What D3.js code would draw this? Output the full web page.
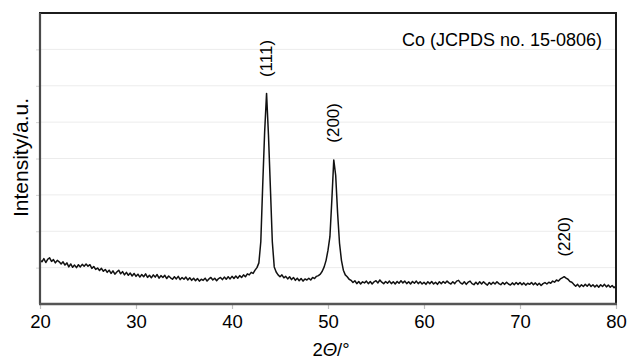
<!DOCTYPE html>
<html>
<head>
<meta charset="utf-8">
<script src="https://cdn.jsdelivr.net/npm/d3@7"></script>
<style>
  html, body { margin: 0; padding: 0; background: white; }
</style>
</head>
<body>
<div id="idMyCanvas"></div>
<script>
let container_id = "idMyCanvas";

let canvas_xn = 627;
let canvas_yn = 360;

// XRD scan, 20..80 deg in 0.2 deg steps, intensity in grid units
let scan_start = 20;
let scan_step = 0.2;
let intensity = [
  1.21, 1.16, 1.25, 1.14, 1.23,   1.27, 1.17, 1.22, 1.13, 1.20,
  1.16, 1.10, 1.16, 1.07, 1.13,   1.02, 1.10, 1.01, 1.07, 1.00,
  1.08, 1.02, 1.09, 1.04, 1.10,   1.04, 1.08, 0.98, 1.03, 0.95,
  0.99, 0.92, 0.98, 0.90, 0.95,   0.87, 0.93, 0.84, 0.91, 0.82,
  0.88, 0.93, 0.83, 0.89, 0.80,   0.87, 0.79, 0.85, 0.77, 0.84,
  0.76, 0.82, 0.74, 0.81, 0.75,   0.83, 0.73, 0.79, 0.72, 0.80,
  0.74, 0.81, 0.71, 0.78, 0.73,   0.79, 0.70, 0.77, 0.72, 0.68,
  0.75, 0.69, 0.76, 0.67, 0.73,   0.68, 0.74, 0.66, 0.72, 0.65,
  0.71, 0.64, 0.70, 0.63, 0.68,   0.65, 0.71, 0.63, 0.69, 0.73,
  0.66, 0.71, 0.64, 0.70, 0.73,   0.67, 0.74, 0.68, 0.75, 0.69,
  0.76, 0.70, 0.77, 0.71, 0.78,   0.73, 0.80, 0.75, 0.83, 0.80,
  0.87, 0.84, 0.93, 1.00, 1.13,   1.71, 3.27, 4.73, 5.79, 4.64,
  3.19, 1.71, 1.02, 0.88, 0.80,   0.75, 0.80, 0.72, 0.76, 0.69,
  0.75, 0.67, 0.73, 0.65, 0.71,   0.64, 0.70, 0.63, 0.69, 0.66,
  0.71, 0.66, 0.73, 0.70, 0.76,   0.78, 0.82, 0.90, 1.02, 1.20,
  1.48, 1.85, 2.86, 3.96, 3.54,   2.50, 1.67, 1.20, 0.93, 0.80,
  0.75, 0.68, 0.65, 0.59, 0.64,   0.56, 0.62, 0.55, 0.61, 0.58,
  0.63, 0.56, 0.62, 0.55, 0.61,   0.64, 0.58, 0.66, 0.60, 0.56,
  0.62, 0.57, 0.63, 0.56, 0.61,   0.55, 0.62, 0.57, 0.64, 0.58,
  0.63, 0.56, 0.61, 0.55, 0.62,   0.57, 0.63, 0.56, 0.61, 0.55,
  0.60, 0.54, 0.61, 0.56, 0.62,   0.55, 0.60, 0.54, 0.61, 0.56,
  0.62, 0.57, 0.63, 0.58, 0.55,   0.61, 0.56, 0.63, 0.65, 0.58,
  0.55, 0.61, 0.54, 0.60, 0.63,   0.56, 0.53, 0.60, 0.54, 0.61,
  0.55, 0.61, 0.56, 0.52, 0.59,   0.54, 0.60, 0.55, 0.61, 0.56,
  0.53, 0.59, 0.54, 0.60, 0.55,   0.52, 0.58, 0.53, 0.59, 0.54,
  0.59, 0.53, 0.58, 0.52, 0.57,   0.54, 0.59, 0.53, 0.58, 0.52,
  0.57, 0.51, 0.56, 0.59, 0.55,   0.60, 0.57, 0.63, 0.60, 0.66,
  0.63, 0.69, 0.72, 0.75, 0.71,   0.68, 0.62, 0.60, 0.54, 0.49,
  0.54, 0.47, 0.53, 0.48, 0.54,   0.49, 0.55, 0.48, 0.53, 0.47,
  0.52, 0.46, 0.53, 0.48, 0.54,   0.47, 0.52, 0.46, 0.51, 0.45,
  0.49
];
let two_theta = intensity.map((d, i) => scan_start + i * scan_step);

let x_ticks = [20, 30, 40, 50, 60, 70, 80];
let y_grid = [1, 2, 3, 4, 5, 6, 7];

let peak_names = ["(111)", "(200)", "(220)"];
let peak_angles = [43.6, 50.65, 74.7];
let peak_label_levels = [6.75, 4.98, 1.85];

let phase_label = "Co (JCPDS no. 15-0806)";

let margin = {top: 13, right: 11, bottom: 56, left: 40};
let plot_w = canvas_xn - margin.left - margin.right;
let plot_h = canvas_yn - margin.top - margin.bottom;

let font_name = "'Liberation Sans', Arial, Helvetica, sans-serif";

let svg_obj = d3.select("#" + container_id)
                .append("svg")
                  .attr("width", canvas_xn)
                  .attr("height", canvas_yn)
                  .attr("xmlns", "http://www.w3.org/2000/svg")
                  .style("display", "block");

svg_obj.append("rect")
       .attr("width", canvas_xn)
       .attr("height", canvas_yn)
       .attr("fill", "white");

let x_scale = d3.scaleLinear().domain([20, 80]).range([0, plot_w]);
let y_scale = d3.scaleLinear().domain([0, 8]).range([plot_h, 0]);

let plot_g = svg_obj.append("g")
                    .attr("transform", "translate(" + margin.left + "," + margin.top + ")");

// light horizontal grid
plot_g.append("g")
      .selectAll("line")
      .data(y_grid)
      .join("line")
        .attr("x1", 0)
        .attr("x2", plot_w)
        .attr("y1", d => y_scale(d))
        .attr("y2", d => y_scale(d))
        .attr("stroke", "#ececec")
        .attr("stroke-width", 1);

// x axis with ticks pointing down
let x_axis = d3.axisBottom(x_scale)
               .tickValues(x_ticks)
               .tickSize(5)
               .tickPadding(6)
               .tickFormat(d3.format("d"));

let x_axis_g = plot_g.append("g")
                     .attr("transform", "translate(0," + plot_h + ")")
                     .call(x_axis);
x_axis_g.select(".domain").remove();
x_axis_g.selectAll(".tick line").attr("stroke", "#c0c0c0").attr("stroke-width", 1.2);
x_axis_g.selectAll(".tick text")
        .attr("font-family", font_name)
        .attr("font-size", "18.5px")
        .attr("fill", "black");

// small y ticks at the grid lines, no labels
let y_axis = d3.axisLeft(y_scale)
               .tickValues(y_grid)
               .tickSize(4)
               .tickFormat("");
let y_axis_g = plot_g.append("g").call(y_axis);
y_axis_g.select(".domain").remove();
y_axis_g.selectAll(".tick line").attr("stroke", "#d4d4d4").attr("stroke-width", 1);

// diffraction pattern
let line_gen = d3.line()
                 .x((d, i) => x_scale(two_theta[i]))
                 .y(d => y_scale(d));

plot_g.append("path")
      .datum(intensity)
      .attr("d", line_gen)
      .attr("fill", "none")
      .attr("stroke", "#111")
      .attr("stroke-width", 1.5)
      .attr("stroke-linejoin", "round");

// frame: dark top/right, grey left/bottom axes
plot_g.append("path")
      .attr("d", "M0," + plot_h + "V0H" + plot_w + "V" + plot_h)
      .attr("fill", "none")
      .attr("stroke", "#1c1c1c")
      .attr("stroke-width", 2);
plot_g.append("line")
      .attr("x1", 0).attr("x2", 0)
      .attr("y1", 0).attr("y2", plot_h)
      .attr("stroke", "#4a4a4a")
      .attr("stroke-width", 2.2);
plot_g.append("line")
      .attr("x1", -1).attr("x2", plot_w + 1)
      .attr("y1", plot_h).attr("y2", plot_h)
      .attr("stroke", "#555")
      .attr("stroke-width", 2.6);

// peak labels, rotated
plot_g.append("g")
      .selectAll("text")
      .data(peak_names)
      .join("text")
        .attr("transform", (d, i) => "translate(" + (x_scale(peak_angles[i]) + 5) + "," + y_scale(peak_label_levels[i]) + ") rotate(-90)")
        .attr("text-anchor", "middle")
        .attr("font-family", font_name)
        .attr("font-size", "17px")
        .attr("fill", "black")
        .text(d => d);

// phase reference
plot_g.append("text")
      .attr("x", plot_w - 14)
      .attr("y", 32.5)
      .attr("text-anchor", "end")
      .attr("font-family", font_name)
      .attr("font-size", "18px")
      .attr("fill", "black")
      .text(phase_label);

// axis titles
let x_title = svg_obj.append("text")
                     .attr("x", margin.left + plot_w / 2 + 3)
                     .attr("y", 356)
                     .attr("text-anchor", "middle")
                     .attr("font-family", font_name)
                     .attr("font-size", "18.5px")
                     .attr("fill", "black");
x_title.append("tspan").text("2");
x_title.append("tspan").attr("font-style", "italic").text("\u0398");
x_title.append("tspan").text("/\u00b0");

svg_obj.append("text")
       .attr("transform", "translate(28," + 157.5 + ") rotate(-90)")
       .attr("text-anchor", "middle")
       .attr("font-family", font_name)
       .attr("font-size", "21px")
       .attr("fill", "black")
       .text("Intensity/a.u.");
</script>
</body>
</html>
